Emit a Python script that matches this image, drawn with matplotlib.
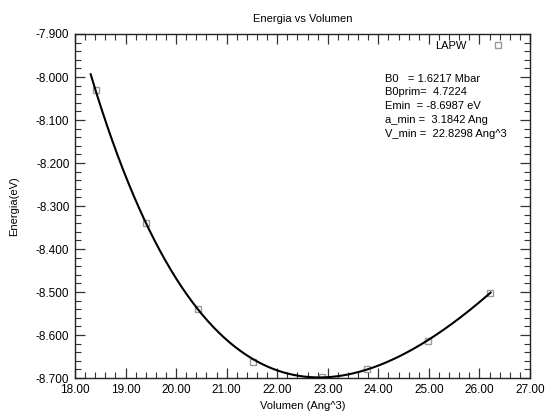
import numpy as np
import matplotlib
matplotlib.use("Agg")
import matplotlib.pyplot as plt
from matplotlib.ticker import MultipleLocator, FormatStrFormatter

plt.rcParams["font.family"] = ["Liberation Sans", "DejaVu Sans"]
plt.rcParams["axes.unicode_minus"] = False

# Calculated points (volume in Ang^3, total energy in eV)
volumes = [18.41, 19.40, 20.43, 21.53, 22.88, 23.78, 24.98, 26.21]
energies = [-8.030, -8.340, -8.540, -8.662, -8.698, -8.678, -8.613, -8.503]

# Murnaghan equation-of-state fit parameters
B0 = 1.6217        # Mbar
B0prim = 4.7224
Emin = -8.6987     # eV
a_min = 3.1842     # Ang
V_min = 22.8298    # Ang^3

fit_range = (18.31, 26.22)


def murnaghan(v, e0, b0_mbar, bp, v0):
    b0 = b0_mbar * 100.0 / 160.21766  # Mbar -> eV/Ang^3
    return e0 + b0 * v / bp * ((v0 / v) ** bp / (bp - 1.0) + 1.0) - b0 * v0 / (bp - 1.0)


fig = plt.figure(figsize=(5.45, 4.13), dpi=100)
ax = fig.add_axes([75 / 545, 1 - 378 / 413, 455 / 545, 344 / 413])

vfit = np.linspace(fit_range[0], fit_range[1], 300)
ax.plot(vfit, murnaghan(vfit, Emin, B0, B0prim, V_min), color="black", lw=1.5, zorder=3)
ax.plot(volumes, energies, linestyle="none", marker="s", markersize=4.5,
        markerfacecolor="none", markeredgecolor="#9a9a9a", markeredgewidth=1.0,
        label="LAPW", zorder=2)

ax.set_xlim(18.0, 27.0)
ax.set_ylim(-8.7, -7.9)
ax.xaxis.set_major_locator(MultipleLocator(1.0))
ax.xaxis.set_minor_locator(MultipleLocator(0.2))
ax.yaxis.set_major_locator(MultipleLocator(0.1))
ax.yaxis.set_minor_locator(MultipleLocator(0.02))
ax.xaxis.set_major_formatter(FormatStrFormatter("%.2f"))
ax.yaxis.set_major_formatter(FormatStrFormatter("%.3f"))
ax.tick_params(which="both", direction="in", top=True, right=True,
               color="#333333", labelsize=8.5, labelcolor="black")
ax.tick_params(which="major", length=7, width=0.9, pad=4)
ax.tick_params(which="minor", length=4, width=0.8)
for s in ax.spines.values():
    s.set_linewidth(1.0)
    s.set_color("#222222")

ax.set_title("Energia vs Volumen", fontsize=8, pad=9)
ax.set_xlabel("Volumen (Ang^3)", fontsize=8, labelpad=4)
ax.set_ylabel("Energia(eV)", fontsize=8, labelpad=12)

ax.legend(loc="upper right", bbox_to_anchor=(0.982, 0.979), markerfirst=False,
          frameon=False, fontsize=8, handlelength=4.2, handletextpad=0.8,
          borderpad=0, borderaxespad=0)

info = (f"B0   = {B0:.4f} Mbar\n"
        f"B0prim=  {B0prim:.4f}\n"
        f"Emin  = {Emin:.4f} eV\n"
        f"a_min =  {a_min:.4f} Ang\n"
        f"V_min =  {V_min:.4f} Ang^3")
ax.text(0.681, 0.885, info, transform=ax.transAxes, fontsize=8,
        va="top", ha="left", linespacing=1.48)

fig.savefig("out.png", dpi=100)
